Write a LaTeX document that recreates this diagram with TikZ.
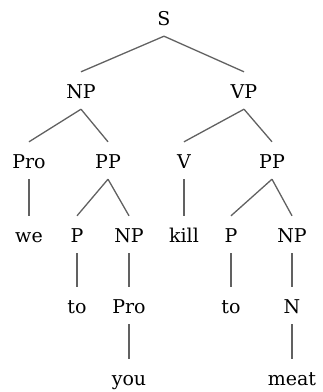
\documentclass[tikz,border=0pt]{standalone}
\usepackage{fontspec}
\setmainfont{DejaVu Serif}
\begin{document}
\begin{tikzpicture}[x=1pt,y=-1pt,
  lab/.style={font=\fontsize{19}{22}\selectfont, text=black, inner xsep=0pt, inner ysep=4pt,
    text height=22pt, text depth=7pt, anchor=base},
  br/.style={draw=black!62, line width=1.3pt}]
\useasboundingbox (0,0) rectangle (323,392);
\node[lab] (S) at (164,25) {S};
\node[lab] (NP) at (81,98) {NP};
\node[lab] (VP) at (244,98) {VP};
\node[lab] (Pro1) at (29,168) {Pro};
\node[lab] (PP1) at (108,168) {PP};
\node[lab] (V) at (184,168) {V};
\node[lab] (PP2) at (272,168) {PP};
\node[lab] (we) at (29,242) {we};
\node[lab] (P1) at (77,242) {P};
\node[lab] (NP2) at (129,242) {NP};
\node[lab] (kill) at (184,242) {kill};
\node[lab] (P2) at (231,242) {P};
\node[lab] (NP3) at (292,242) {NP};
\node[lab] (to1) at (77,313) {to};
\node[lab] (Pro2) at (129,313) {Pro};
\node[lab] (to2) at (231,313) {to};
\node[lab] (N) at (292,313) {N};
\node[lab] (you) at (129,385) {you};
\node[lab] (meat) at (292,385) {meat};
\draw[br] (S.south) -- (NP.north);
\draw[br] (S.south) -- (VP.north);
\draw[br] (NP.south) -- (Pro1.north);
\draw[br] (NP.south) -- (PP1.north);
\draw[br] (VP.south) -- (V.north);
\draw[br] (VP.south) -- (PP2.north);
\draw[br] (Pro1.south) -- (we.north);
\draw[br] (PP1.south) -- (P1.north);
\draw[br] (PP1.south) -- (NP2.north);
\draw[br] (V.south) -- (kill.north);
\draw[br] (PP2.south) -- (P2.north);
\draw[br] (PP2.south) -- (NP3.north);
\draw[br] (P1.south) -- (to1.north);
\draw[br] (NP2.south) -- (Pro2.north);
\draw[br] (P2.south) -- (to2.north);
\draw[br] (NP3.south) -- (N.north);
\draw[br] (Pro2.south) -- (you.north);
\draw[br] (N.south) -- (meat.north);
\end{tikzpicture}
\end{document}
